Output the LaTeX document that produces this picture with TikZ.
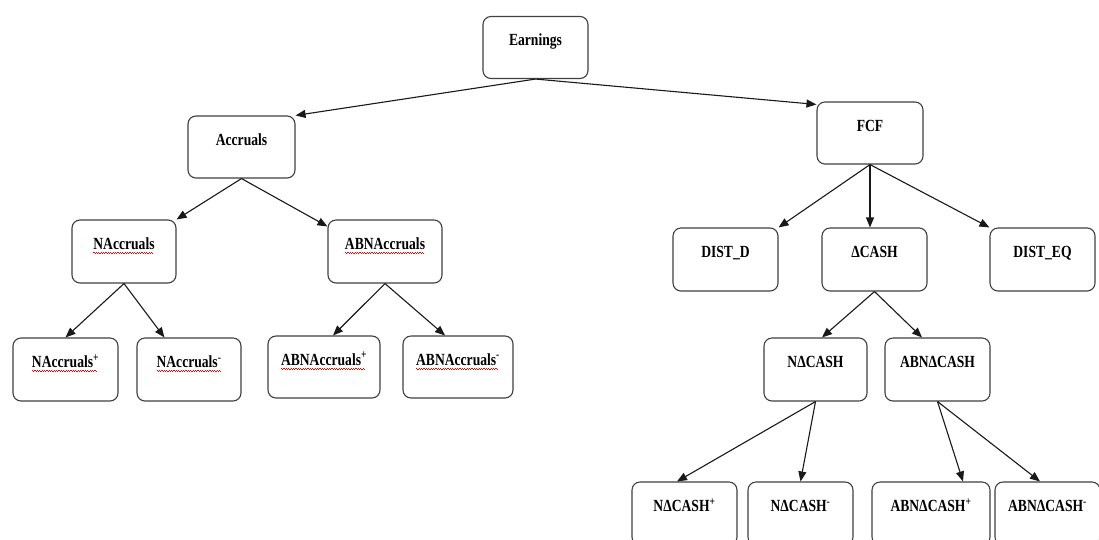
\documentclass[tikz,border=0pt]{standalone}
\usepackage{fontspec}
\usetikzlibrary{arrows.meta}
\newfontfamily\dfont[FakeStretch=0.8]{Liberation Serif}
\newcommand\redwave[1]{\setbox0=\hbox{#1}\rlap{\raisebox{-3.5pt}{\textcolor{red}{\leaders\hbox to 2.4pt{\vrule width 1.2pt height 0.6pt depth 0pt\vrule width 1.2pt height 0pt depth 0.6pt}\hskip\wd0}}}\box0}
\tikzset{
  box/.style={draw=black!75, line width=1.1pt, rounded corners=8pt,
    minimum width=105pt, minimum height=62pt, inner sep=0pt,
    text height=10pt, text depth=14pt,
    font=\dfont\bfseries\fontsize{17pt}{19pt}\selectfont},
  arr/.style={line width=1.1pt, draw=black!90, -{Triangle[length=10pt,width=8pt]}}
}
\begin{document}
\begin{tikzpicture}[x=1pt,y=-1pt]
\useasboundingbox (0,0) rectangle (1099,539);
\clip (0,0) rectangle (1099,539);
\fill[white] (0,0) rectangle (1099,539);
% level 0
\node[box] (earn) at (535.5,47.5) {Earnings};
% level 1
\node[box, minimum width=107pt] (acc) at (241.5,147) {Accruals};
\node[box, minimum width=106pt] (fcf) at (870,133) {FCF};
% accruals branch
\node[box, minimum width=104pt, minimum height=63pt] (nacc) at (124,251.5) {\redwave{NAccruals}\hspace{20pt}};
\node[box, minimum width=114pt, minimum height=63pt] (abnacc) at (385,251.5) {\redwave{ABNAccruals}\hspace{10pt}};
\node[box, minimum height=63pt] (naccp) at (65.5,369.5) {\redwave{NAccruals\textsuperscript{+}}\hspace{17pt}};
\node[box, minimum width=104pt, minimum height=63pt] (naccm) at (189,369.5) {\redwave{NAccruals\textsuperscript{-}}\hspace{18pt}};
\node[box, minimum width=112pt] (abnaccp) at (324,367) {\redwave{ABNAccruals\textsuperscript{+}}\hspace{8pt}};
\node[box, minimum width=110pt] (abnaccm) at (458,367) {\redwave{ABNAccruals\textsuperscript{-}}\hspace{8pt}};
% FCF branch
\node[box, minimum height=63pt] (distd) at (725.5,259.5) {DIST\_D};
\node[box, minimum height=63pt] (dcash) at (874.5,259.5) {ΔCASH};
\node[box, minimum height=63pt] (disteq) at (1042.5,259.5) {DIST\_EQ};
\node[box, minimum width=103pt, minimum height=63pt] (ncash) at (815.5,369.5) {NΔCASH};
\node[box, minimum height=63pt] (abncash) at (937.5,369.5) {ABNΔCASH};
\node[box, minimum height=63pt] (ncashp) at (684.5,513.5) {NΔCASH\textsuperscript{+}};
\node[box, minimum height=63pt] (ncashm) at (800.5,513.5) {NΔCASH\textsuperscript{-}};
\node[box, minimum width=118pt, minimum height=63pt] (abncashp) at (931,513.5) {ABNΔCASH\textsuperscript{+}};
\node[box, minimum height=63pt] (abncashm) at (1047.5,513.5) {ABNΔCASH\textsuperscript{-}};
% connectors
\draw[arr] (earn.south) -- (acc.north east);
\draw[arr] (earn.south) -- ([yshift=-3pt]fcf.north west);
\draw[arr] (acc.south) -- (nacc.north east);
\draw[arr] (acc.south) -- ([yshift=-7pt]abnacc.north west);
\draw[arr] (nacc.south) -- (naccp.north);
\draw[arr] (nacc.south) -- ([xshift=28pt]naccm.north west);
\draw[arr] (abnacc.south) -- ([xshift=9pt]abnaccp.north);
\draw[arr] (abnacc.south) -- ([xshift=-13pt]abnaccm.north);
\draw[arr] (fcf.south) -- (distd.north east);
\draw[arr] (fcf.south) -- (fcf.south |- dcash.north);
\draw[arr] (fcf.south) -- (disteq.north west);
\draw[arr] (dcash.south) -- ([xshift=6.5pt]ncash.north);
\draw[arr] (dcash.south) -- ([xshift=-15.5pt]abncash.north);
\draw[arr] (ncash.south) -- ([xshift=-7.5pt]ncashp.north);
\draw[arr] (ncash.south) -- (ncashm.north);
\draw[arr] (abncash.south) -- ([xshift=32pt]abncashp.north);
\draw[arr] (abncash.south) -- ([xshift=-7.5pt]abncashm.north);
\end{tikzpicture}
\end{document}
